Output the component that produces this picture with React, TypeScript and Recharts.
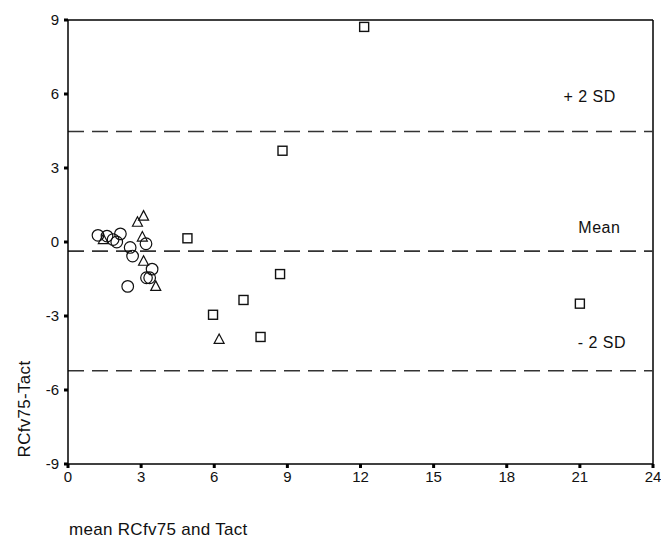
import { ScatterChart, Scatter, XAxis, YAxis, ReferenceLine, ReferenceDot, Customized } from 'recharts'

// group 1: circles
const circleX = [1.23, 1.6, 1.85, 2.0, 2.15, 2.55, 2.65, 3.2, 3.45, 3.22, 3.35, 2.45]
const circleY = [0.27, 0.24, 0.1, 0.0, 0.33, -0.22, -0.57, -0.07, -1.1, -1.45, -1.45, -1.8]

// group 2: triangles
const triX = [1.45, 3.1, 2.85, 3.05, 3.1, 3.6, 6.2]
const triY = [0.1, 1.05, 0.8, 0.2, -0.78, -1.8, -3.95]

// group 3: squares
const sqX = [12.15, 8.8, 4.9, 8.7, 7.2, 21.0, 5.95, 7.9]
const sqY = [8.72, 3.7, 0.15, -1.3, -2.35, -2.5, -2.95, -3.85]

const xTicks = [0, 3, 6, 9, 12, 15, 18, 21, 24]
const yTicks = [-9, -6, -3, 0, 3, 6, 9]

const meanDiff = -0.37
const upperSD = 4.48
const lowerSD = -5.22

const toPoints = (xs: number[], ys: number[]) => xs.map((x, i) => ({ x, y: ys[i] }))

const FONT = '"Liberation Sans", Arial, sans-serif'
const INK = '#111'

const CircleMark = (p: any) => (
  <circle cx={p.cx} cy={p.cy} r={5.8} fill="none" stroke={INK} strokeWidth={1.2} />
)
const TriangleMark = (p: any) => {
  const { cx, cy } = p
  return (
    <polygon
      points={`${cx},${cy - 5.5} ${cx - 5},${cy + 4} ${cx + 5},${cy + 4}`}
      fill="none"
      stroke={INK}
      strokeWidth={1.2}
    />
  )
}
const SquareMark = (p: any) => (
  <rect x={p.cx - 4.5} y={p.cy - 4.5} width={9} height={9} fill="none" stroke={INK} strokeWidth={1.4} />
)

const dashed = { stroke: '#333', strokeWidth: 1.6, strokeDasharray: '16 8' }
const sdLabel = { fill: INK, fontSize: 16, fontFamily: FONT, letterSpacing: 0.5 }

export default function App() {
  return (
    <div style={{ position: 'absolute', left: 0, top: 0, width: 661, height: 539, background: '#fff' }}>
      <ScatterChart width={661} height={539} margin={{ top: 20, right: 8, left: 28, bottom: 45 }}>
        <XAxis
          type="number"
          dataKey="x"
          domain={[0, 24]}
          ticks={xTicks}
          height={30}
          axisLine={{ stroke: '#000', strokeWidth: 1.5 }}
          tickLine={{ stroke: '#000', strokeWidth: 3 }}
          tickSize={4}
          tickMargin={3}
          tick={{ fill: INK, fontSize: 15, fontFamily: FONT }}
        />
        <YAxis
          type="number"
          dataKey="y"
          domain={[-9, 9]}
          ticks={yTicks}
          width={40}
          axisLine={{ stroke: '#000', strokeWidth: 1.5 }}
          tickLine={{ stroke: '#000', strokeWidth: 3 }}
          tickSize={4}
          tickMargin={5}
          tick={{ fill: INK, fontSize: 15, fontFamily: FONT }}
        />
        <ReferenceLine y={9} stroke="#000" strokeWidth={1.5} />
        <ReferenceLine x={24} stroke="#000" strokeWidth={1.5} />
        <ReferenceLine y={upperSD} {...dashed} />
        <ReferenceLine y={meanDiff} {...dashed} />
        <ReferenceLine y={lowerSD} {...dashed} />
        <ReferenceDot x={21.4} y={5.9} r={0} label={{ value: '+ 2 SD', ...sdLabel }} />
        <ReferenceDot x={21.8} y={0.6} r={0} label={{ value: 'Mean', ...sdLabel }} />
        <ReferenceDot x={21.9} y={-4.05} r={0} label={{ value: '- 2 SD', ...sdLabel }} />
        <Scatter data={toPoints(circleX, circleY)} shape={CircleMark} isAnimationActive={false} />
        <Scatter data={toPoints(triX, triY)} shape={TriangleMark} isAnimationActive={false} />
        <Scatter data={toPoints(sqX, sqY)} shape={SquareMark} isAnimationActive={false} />
        <Customized
          component={() => (
            <g fontFamily={FONT} fill={INK} fontSize={17} letterSpacing={0.3}>
              <text x={69} y={535}>mean RCfv75 and Tact</text>
              <text x={30} y={409} textAnchor="middle" transform="rotate(-90 30 409)">RCfv75-Tact</text>
            </g>
          )}
        />
      </ScatterChart>
    </div>
  )
}
